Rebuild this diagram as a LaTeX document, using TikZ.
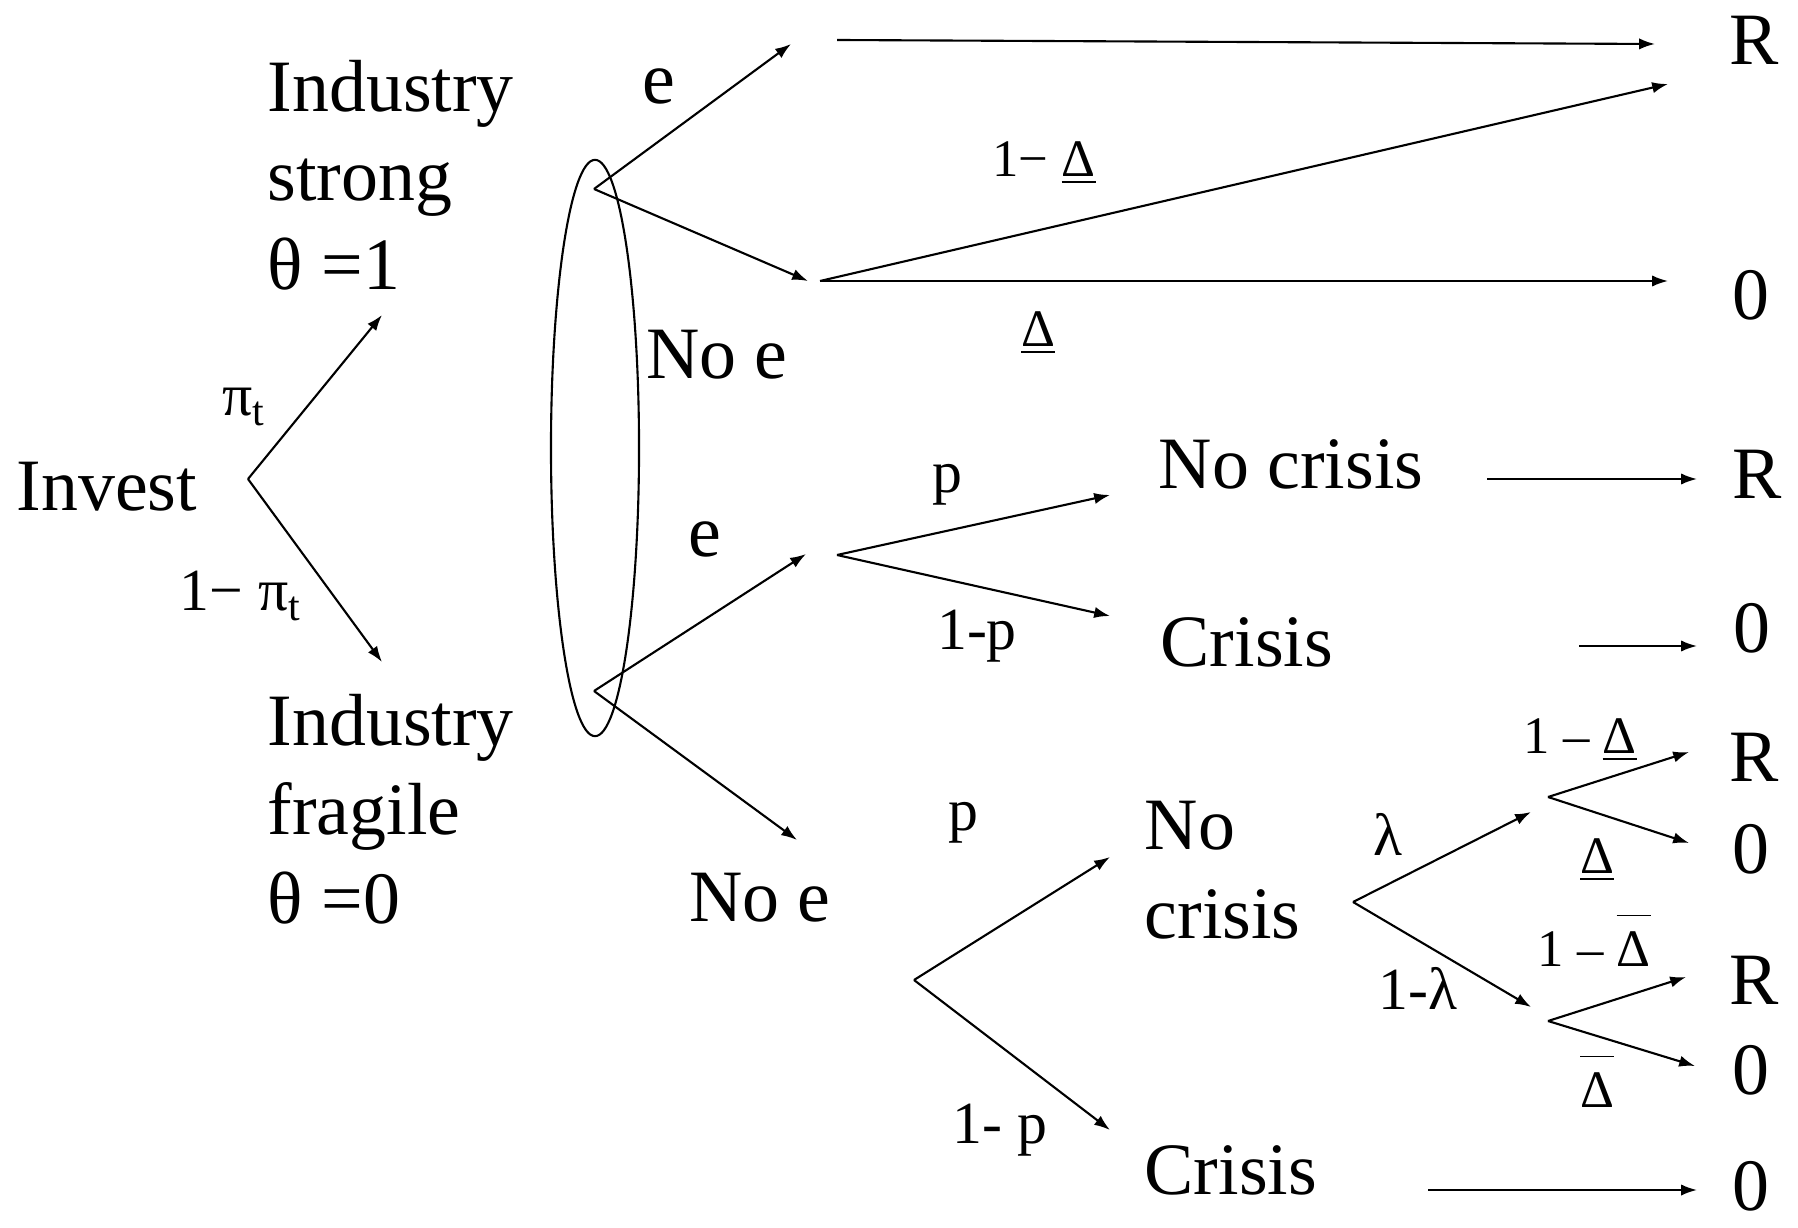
\documentclass[tikz,border=0pt]{standalone}
\usepackage{fontspec}
\setmainfont{Liberation Serif}
\usepackage{tikz}
\usetikzlibrary{arrows.meta}
\newcommand{\olbar}[1]{$\overline{\hbox{\rule{0pt}{0.88em}#1}}$}

\begin{document}
\begin{tikzpicture}[x=0.01cm, y=-0.01cm,
  big/.style={font=\fontsize{21}{25.3}\selectfont, inner sep=0pt},
  mid/.style={font=\fontsize{17}{20}\selectfont, inner sep=0pt},
  small/.style={font=\fontsize{15}{18}\selectfont, inner sep=0pt},
  branch/.style={-{Latex[length=4.5pt,width=3.2pt]}, line width=0.6pt}]
\useasboundingbox (0,0) rectangle (1798,1228);

% Investment and industry state
\node[big] (invest) at (107,487) {Invest};
\node[big, anchor=west, align=left] (strong) at (267,175) {Industry\\strong\\θ =1};
\node[big, anchor=west, align=left] (fragile) at (267,809) {Industry\\fragile\\θ =0};
\node[mid] (pi) at (244,407) {π\textsubscript{t}};
\node[mid] (notpi) at (241,596) {1− π\textsubscript{t}};
\coordinate (root) at (248,479);
\coordinate (toStrong) at (382,315);
\coordinate (toFragile) at (382,662);
\draw[branch] (root) -- (toStrong);
\draw[branch] (root) -- (toFragile);

% Information set
\draw[line width=0.6pt] (595,448) ellipse [x radius=0.44cm, y radius=2.88cm];

% Strong industry
\coordinate (sRoot) at (594,189);
\coordinate (sE) at (791,44);
\coordinate (sNoE) at (808,281);
\node[big] (eS) at (659,86) {e};
\node[big] (noeS) at (717,355) {No e};
\draw[branch] (sRoot) -- (sE);
\draw[branch] (sRoot) -- (sNoE);
\coordinate (sEgo) at (837,40);
\coordinate (sEend) at (1655,44);
\coordinate (sNoEgo) at (820,281);
\coordinate (sNoEup) at (1668,84);
\coordinate (sNoEdn) at (1668,281);
\draw[branch] (sEgo) -- (sEend);
\draw[branch] (sNoEgo) -- (sNoEup);
\draw[branch] (sNoEgo) -- (sNoEdn);
\node[small] (dUp) at (1044,163) {1− \underline{Δ}};
\node[small] (dDn) at (1038,333) {\underline{Δ}};
\node[big] (r1) at (1754,40) {R};
\node[big] (z1) at (1751,295) {0};

% Fragile industry
\coordinate (fRoot) at (594,691);
\coordinate (fE) at (806,554);
\coordinate (fNoE) at (797,840);
\node[big] (eF) at (705,539) {e};
\node[big] (noeF) at (760,898) {No e};
\draw[branch] (fRoot) -- (fE);
\draw[branch] (fRoot) -- (fNoE);

% Fragile, entry
\coordinate (eRoot) at (837,555);
\coordinate (eNc) at (1110,495);
\coordinate (eC) at (1110,616);
\draw[branch] (eRoot) -- (eNc);
\draw[branch] (eRoot) -- (eC);
\node[mid] (pE) at (947,485) {p};
\node[mid] (qE) at (977,636) {1-p};
\node[big, anchor=west] (ncE) at (1158,464) {No crisis};
\node[big, anchor=west] (cE) at (1160,642) {Crisis};
\coordinate (ncEgo) at (1487,479);
\coordinate (ncEend) at (1697,479);
\coordinate (cEgo) at (1579,646);
\coordinate (cEend) at (1697,646);
\draw[branch] (ncEgo) -- (ncEend);
\draw[branch] (cEgo) -- (cEend);
\node[big] (r2) at (1757,474) {R};
\node[big] (z2) at (1752,628) {0};

% Fragile, no entry
\coordinate (nRoot) at (914,980);
\coordinate (nNc) at (1110,857);
\coordinate (nC) at (1110,1130);
\draw[branch] (nRoot) -- (nNc);
\draw[branch] (nRoot) -- (nC);
\node[mid] (pN) at (963,823) {p};
\node[mid] (qN) at (1000,1130) {1- p};
\node[big, anchor=west, align=left] (ncN) at (1144,870) {No\\crisis};
\node[big, anchor=west] (cN) at (1144,1170) {Crisis};
\coordinate (cNgo) at (1428,1190);
\coordinate (cNend) at (1697,1190);
\draw[branch] (cNgo) -- (cNend);
\node[big] (z5) at (1751,1186) {0};

% Lambda split
\coordinate (lRoot) at (1353,902);
\coordinate (lHi) at (1531,812);
\coordinate (lLo) at (1531,1007);
\draw[branch] (lRoot) -- (lHi);
\draw[branch] (lRoot) -- (lLo);
\node[mid] (lam) at (1388,834) {λ};
\node[mid] (notlam) at (1418,988) {1-λ};
\coordinate (hRoot) at (1548,797);
\coordinate (hR) at (1689,752);
\coordinate (hZ) at (1689,843);
\draw[branch] (hRoot) -- (hR);
\draw[branch] (hRoot) -- (hZ);
\node[small] (hUp) at (1580,740) {1 – \underline{Δ}};
\node[small] (hDn) at (1597,860) {\underline{Δ}};
\node[big] (r3) at (1754,757) {R};
\node[big] (z3) at (1751,849) {0};
\coordinate (bRoot) at (1548,1021);
\coordinate (bR) at (1686,977);
\coordinate (bZ) at (1695,1066);
\draw[branch] (bRoot) -- (bR);
\draw[branch] (bRoot) -- (bZ);
\node[small] (bUp) at (1594,940) {1 – \olbar{Δ}};
\node[small] (bDn) at (1597,1081) {\olbar{Δ}};
\node[big] (r4) at (1754,980) {R};
\node[big] (z4) at (1751,1070) {0};
\end{tikzpicture}
\end{document}
